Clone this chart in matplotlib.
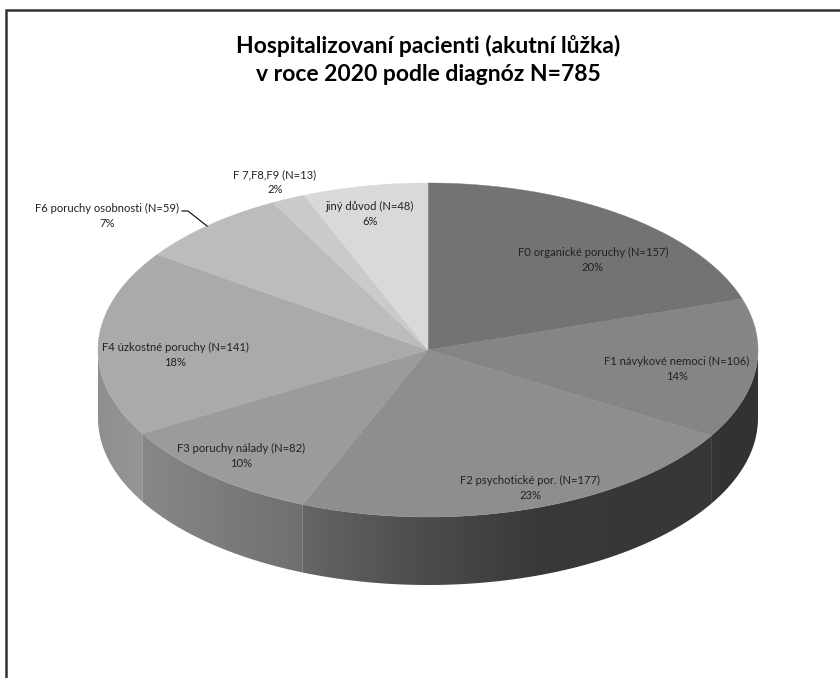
import numpy as np
import matplotlib
matplotlib.use('Agg')
import matplotlib.pyplot as plt
from matplotlib.patches import Polygon

plt.rcParams['font.family'] = ['Lato', 'DejaVu Sans']

# data (clockwise from 12 o'clock)
labels = ['F0 organické poruchy (N=157)', 'F1 návykové nemoci (N=106)',
          'F2 psychotické por. (N=177)', 'F3 poruchy nálady (N=82)',
          'F4 úzkostné poruchy (N=141)', 'F6 poruchy osobnosti (N=59)',
          'F 7,F8,F9 (N=13)', 'jiný důvod (N=48)']
counts = [157, 106, 177, 82, 141, 59, 13, 48]
pcts = ['20%', '14%', '23%', '10%', '18%', '7%', '2%', '6%']
colors = ['#737373', '#858585', '#8e8e8e', '#9b9b9b', '#aaaaaa', '#bcbcbc', '#cacaca', '#d9d9d9']
# label anchor (pixel coords, centre of the two lines)
label_pos = [(593, 260), (677, 369), (530, 488), (241, 456),
             (175, 355), (107, 216), (275, 182), (370, 214)]

title = 'Hospitalizovaní pacienti (akutní lůžka)\nv roce 2020 podle diagnóz N=785'

# pie geometry in pixels
cx, cy = 428, 350
rx, ry = 330, 167
depth = 68

fig = plt.figure(figsize=(8.4, 6.78), dpi=100)
ax = fig.add_axes([0, 0, 1, 1])
ax.set_xlim(0, 840)
ax.set_ylim(678, 0)
ax.axis('off')


def pt(theta_deg):
    t = np.radians(theta_deg)
    return cx + rx * np.sin(t), cy - ry * np.cos(t)


def shade(x):
    # darkening of the side wall from left to right
    return np.interp(x, [97, 140, 300, 420, 540, 760], [0.84, 0.88, 0.72, 0.54, 0.40, 0.38])


total = sum(counts)
bounds = np.concatenate([[0], np.cumsum(counts)]) / total * 360

# side walls (front half only)
for i in range(len(counts)):
    a0 = max(bounds[i], 90)
    a1 = min(bounds[i + 1], 270)
    if a1 <= a0:
        continue
    th = np.linspace(a0, a1, 120)
    xs, ys = pt(th)
    poly = np.vstack([np.column_stack([xs, ys]),
                      np.column_stack([xs[::-1], ys[::-1] + depth])])
    patch = Polygon(poly, closed=True, facecolor='none', edgecolor='none')
    ax.add_patch(patch)
    x0, x1 = int(xs.min()) - 2, int(xs.max()) + 3
    y0, y1 = int(ys.min()) - 2, int(ys.max()) + depth + 3
    base = np.array(matplotlib.colors.to_rgb(colors[i]))
    xcol = np.arange(x0, x1) + 0.5
    img = shade(xcol)[None, :, None] * base[None, None, :]
    img = np.repeat(img, y1 - y0, axis=0)
    im = ax.imshow(img, extent=(x0, x1, y1, y0), interpolation='bilinear', zorder=1)
    im.set_clip_path(patch)

# top face
for i in range(len(counts)):
    th = np.linspace(bounds[i], bounds[i + 1], 200)
    xs, ys = pt(th)
    poly = np.vstack([[cx, cy], np.column_stack([xs, ys])])
    ax.add_patch(Polygon(poly, closed=True, facecolor=colors[i], edgecolor=colors[i],
                         lw=0.3, zorder=2))

# labels
for i in range(len(counts)):
    x, y = label_pos[i]
    ax.text(x, y, labels[i] + '\n' + pcts[i], ha='center', va='center',
            fontsize=8.1, color='#222222', linespacing=1.4, zorder=5)

# leader line for F6
ax.plot([182, 188, 207], [211, 211, 226], color='black', lw=0.8, zorder=5)

ax.text(428, 60, title, ha='center', va='center', fontsize=16.5, fontweight='bold',
        color='black', linespacing=1.4)

# chart frame (only left and top edges visible)
ax.plot([6, 6, 845], [690, 10, 10], color='#333333', lw=1.8, zorder=6,
        solid_joinstyle='miter', clip_on=False)

fig.savefig('out.png', dpi=100)
